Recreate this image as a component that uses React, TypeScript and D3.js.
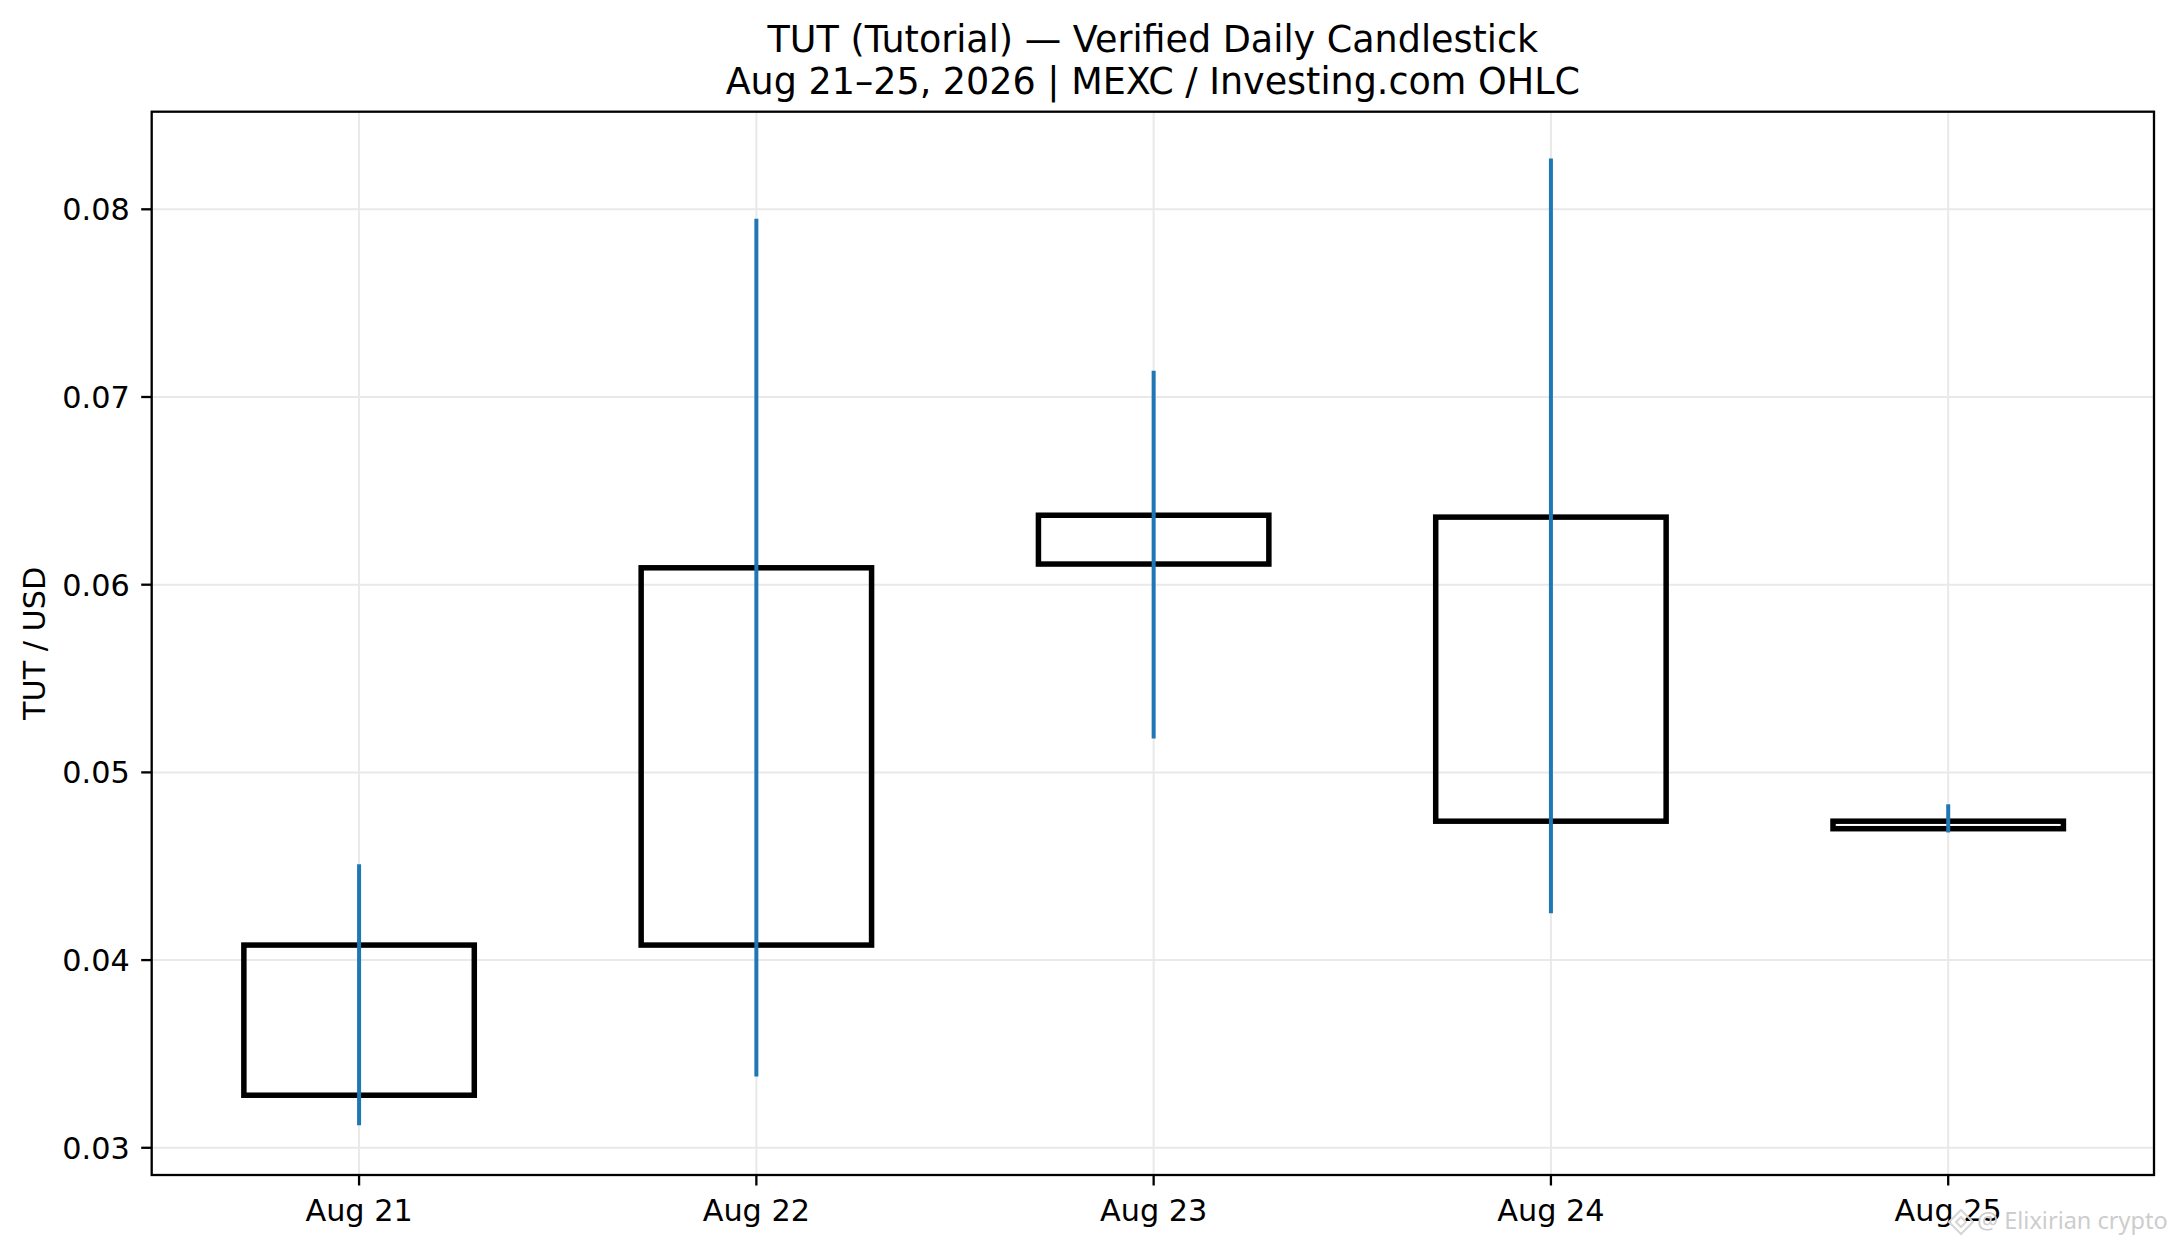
import * as d3 from "d3";

// OHLC
const days = ["Aug 21", "Aug 22", "Aug 23", "Aug 24", "Aug 25"];
const opens = [0.0328, 0.0408, 0.0611, 0.0636, 0.0474];
const closes = [0.0408, 0.0609, 0.0637, 0.0474, 0.047];
const highs = [0.0451, 0.0795, 0.0714, 0.0827, 0.0483];
const lows = [0.0312, 0.0338, 0.0518, 0.0425, 0.0468];
const yTicks = [0.03, 0.04, 0.05, 0.06, 0.07, 0.08];

const W = 2176;
const H = 1247;
const margin = { left: 151.7, right: 22, top: 111.7, bottom: 72 };
const FONT = "'DejaVu Sans', sans-serif";
const LABEL_SIZE = 30.3;
const TITLE_SIZE = 36.5;

export default function App() {
  const x = d3
    .scaleLinear()
    .domain([-0.522, 4.518])
    .range([margin.left, W - margin.right]);
  const y = d3
    .scaleLinear()
    .domain([0.02855, 0.0852])
    .range([H - margin.bottom, margin.top]);

  const bodyW = 0.58;
  const fmt = d3.format(".2f");
  const cx = (x.range()[0] + x.range()[1]) / 2;

  return (
    <svg
      width={W}
      height={H}
      style={{ position: "absolute", left: 0, top: 0, background: "white" }}
      fontFamily={FONT}
    >
      <rect width={W} height={H} fill="white" />

      {/* grid */}
      {yTicks.map((t) => (
        <line
          key={"gy" + t}
          x1={x.range()[0]}
          x2={x.range()[1]}
          y1={y(t)}
          y2={y(t)}
          stroke="#e9e9e9"
          strokeWidth={2}
        />
      ))}
      {days.map((d, i) => (
        <line
          key={"gx" + d}
          x1={x(i)}
          x2={x(i)}
          y1={y.range()[0]}
          y2={y.range()[1]}
          stroke="#e9e9e9"
          strokeWidth={2}
        />
      ))}

      {/* bodies */}
      {days.map((d, i) => {
        const top = y(Math.max(opens[i], closes[i]));
        const bot = y(Math.min(opens[i], closes[i]));
        return (
          <rect
            key={"b" + d}
            x={x(i - bodyW / 2)}
            y={top}
            width={x(bodyW) - x(0)}
            height={bot - top}
            fill="none"
            stroke="black"
            strokeWidth={5.5}
          />
        );
      })}

      {/* wicks */}
      {days.map((d, i) => (
        <line
          key={"w" + d}
          x1={x(i)}
          x2={x(i)}
          y1={y(highs[i])}
          y2={y(lows[i])}
          stroke="#1f77b4"
          strokeWidth={4}
        />
      ))}

      {/* spines */}
      <rect
        x={x.range()[0]}
        y={y.range()[1]}
        width={x.range()[1] - x.range()[0]}
        height={y.range()[0] - y.range()[1]}
        fill="none"
        stroke="black"
        strokeWidth={2.3}
      />

      {/* y ticks */}
      {yTicks.map((t) => (
        <g key={"ty" + t}>
          <line
            x1={x.range()[0] - 10.5}
            x2={x.range()[0]}
            y1={y(t)}
            y2={y(t)}
            stroke="black"
            strokeWidth={2.3}
          />
          <text
            x={x.range()[0] - 22}
            y={y(t)}
            dy="0.36em"
            textAnchor="end"
            fontSize={LABEL_SIZE}
            fill="black"
          >
            {fmt(t)}
          </text>
        </g>
      ))}

      {/* x ticks */}
      {days.map((d, i) => (
        <g key={"tx" + d}>
          <line
            x1={x(i)}
            x2={x(i)}
            y1={y.range()[0]}
            y2={y.range()[0] + 10.5}
            stroke="black"
            strokeWidth={2.3}
          />
          <text
            x={x(i)}
            y={y.range()[0] + 46}
            textAnchor="middle"
            fontSize={LABEL_SIZE}
            fill="black"
          >
            {d}
          </text>
        </g>
      ))}

      {/* y label */}
      <text
        transform={`translate(45,${(y.range()[0] + y.range()[1]) / 2}) rotate(-90)`}
        textAnchor="middle"
        fontSize={LABEL_SIZE}
        fill="black"
      >
        TUT / USD
      </text>

      {/* title */}
      <text textAnchor="middle" fontSize={TITLE_SIZE} fill="black">
        <tspan x={cx} y={52}>
          TUT (Tutorial) — Verified Daily Candlestick
        </tspan>
        <tspan x={cx} y={94}>
          Aug 21–25, 2026 | MEXC / Investing.com OHLC
        </tspan>
      </text>

      {/* watermark */}
      <g>
        <g transform="translate(1961,1222)" fill="none" stroke="#d6d6d6" strokeWidth={2}>
          <path d="M0,-12 L12,0 L0,12 L-12,0 Z" />
          <path d="M0,-5 L5,0 L0,5 L-5,0 Z" />
        </g>
        <text x={1977} y={1229} fontFamily="'Noto Sans', sans-serif" fontSize={23.5} fill="#cdcdcd">
          @ Elixirian crypto
        </text>
      </g>
    </svg>
  );
}
